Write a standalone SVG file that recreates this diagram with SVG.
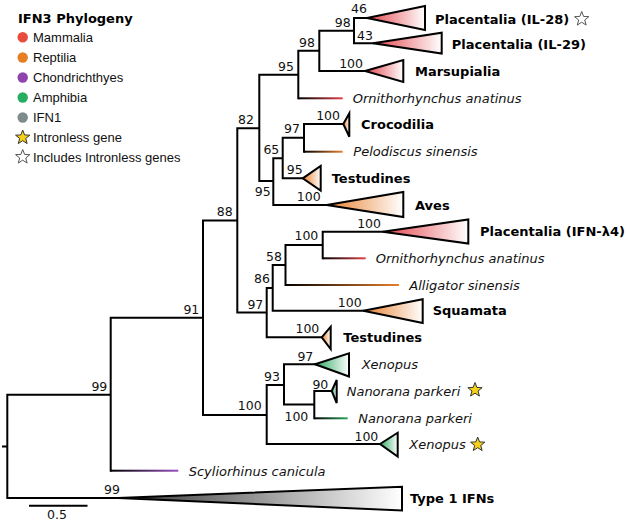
<svg xmlns="http://www.w3.org/2000/svg" width="630" height="523" viewBox="0 0 630 523">
<style>
.br{fill:none;stroke:#000;stroke-width:2;stroke-linecap:square}
.tri{stroke:#000;stroke-width:2;stroke-linejoin:miter}
.bs{font-family:"DejaVu Sans",sans-serif;font-size:12.5px;fill:#111;text-anchor:end}
.cl{font-family:"DejaVu Sans",sans-serif;font-size:13px;font-weight:bold;fill:#000}
.sp{font-family:"DejaVu Sans",sans-serif;font-size:13px;font-style:italic;fill:#111}
.lg{font-family:"Liberation Sans",Arial,sans-serif;font-size:13px;fill:#111}
.ys{fill:#f5d11a;stroke:#333;stroke-width:1}
.es{fill:#fff;stroke:#555;stroke-width:1}
</style>
<defs>
<linearGradient id="tRed" x1="0" y1="0" x2="1" y2="0"><stop offset="0" stop-color="#e3424a"/><stop offset="1" stop-color="#fff"/></linearGradient>
<linearGradient id="tOr" x1="0" y1="0" x2="1" y2="0"><stop offset="0" stop-color="#e8802c"/><stop offset="1" stop-color="#fff"/></linearGradient>
<linearGradient id="tGr" x1="0" y1="0" x2="1" y2="0"><stop offset="0" stop-color="#2aa860"/><stop offset="1" stop-color="#fff"/></linearGradient>
<linearGradient id="tGy" x1="0" y1="0" x2="1" y2="0"><stop offset="0" stop-color="#333"/><stop offset="1" stop-color="#fff"/></linearGradient>
<linearGradient id="lRed" x1="0" y1="0" x2="1" y2="0"><stop offset="0" stop-color="#000"/><stop offset="1" stop-color="#e3424a"/></linearGradient>
<linearGradient id="lOr" x1="0" y1="0" x2="1" y2="0"><stop offset="0" stop-color="#000"/><stop offset="1" stop-color="#e8802c"/></linearGradient>
<linearGradient id="lGr" x1="0" y1="0" x2="1" y2="0"><stop offset="0" stop-color="#000"/><stop offset="1" stop-color="#2aa860"/></linearGradient>
<linearGradient id="lPu" x1="0" y1="0" x2="1" y2="0"><stop offset="0" stop-color="#000"/><stop offset="1" stop-color="#9b4fc0"/></linearGradient>
<path id="star" d="M0,-7.5 L1.88,-2.59 L7.13,-2.32 L3.04,0.99 L4.41,6.07 L0,3.2 L-4.41,6.07 L-3.04,0.99 L-7.13,-2.32 L-1.88,-2.59 Z"/>
</defs>
<rect width="630" height="523" fill="#fff"/>

<g id="legend">
<text x="18" y="23" class="cl">IFN3 Phylogeny</text>
<circle cx="22.7" cy="37.3" r="5.2" fill="#e74c3c"/><text x="33" y="42" class="lg">Mammalia</text>
<circle cx="22.7" cy="57.5" r="5.2" fill="#e67e22"/><text x="33" y="62" class="lg">Reptilia</text>
<circle cx="22.7" cy="77.5" r="5.2" fill="#8e44ad"/><text x="33" y="82" class="lg">Chondrichthyes</text>
<circle cx="22.7" cy="97.5" r="5.2" fill="#27ae60"/><text x="33" y="102" class="lg">Amphibia</text>
<circle cx="22.7" cy="117.5" r="5.2" fill="#7f8c8d"/><text x="33" y="122" class="lg">IFN1</text>
<use href="#star" x="22.7" y="137.5" class="ys"/><text x="33" y="142" class="lg">Intronless gene</text>
<use href="#star" x="22.7" y="157" class="es"/><text x="33" y="161.5" class="lg">Includes Intronless genes</text>
</g>

<g id="connectors">
<path class="br" d="M3,446.5 H7.3 M7.3,394.7 V498 M7.3,394.7 H110.7 M7.3,498 H118
M110.7,317.7 V470.7 M110.7,317.7 H203
M203,220.5 V415 M203,415 H266.7
M266.7,385 V444 M266.7,385 H284
M284,364.3 V404.5 M284,364.3 H315 M284,404.5 H314.3
M314.3,391 V418.3 M314.3,391 H331.7
M266.7,444 H380
M203,220.5 H237.3
M237.3,128.3 V312.5 M237.3,128.3 H259.3
M259.3,74.8 V181 M259.3,74.8 H298.3
M298.3,50.8 V98.3 M298.3,50.8 H319.3
M319.3,30.7 V71 M319.3,30.7 H354
M354,18 V43.3 M354,18 H367 M354,43.3 H373
M319.3,71 H365
M259.3,181 H273.3
M273.3,158.3 V205 M273.3,158.3 H282.7
M282.7,137.7 V178.3 M282.7,137.7 H304
M304,124 V151.7 M304,124 H343.3
M282.7,178.3 H302.7
M273.3,205 H326.7
M237.3,312.5 H266.7
M266.7,288 V337.3 M266.7,288 H272.7
M272.7,265 V310.7 M272.7,265 H285.5
M285.5,245 V285 M285.5,245 H322.7
M322.7,231.7 V258.3 M322.7,231.7 H382.7
M272.7,310.7 H363.3
M266.7,337.3 H321.7"/>
<rect x="298.3" y="97.3" width="44.4" height="2" fill="url(#lRed)"/>
<rect x="304" y="150.7" width="38.7" height="2" fill="url(#lOr)"/>
<rect x="322.7" y="257.3" width="43" height="2" fill="url(#lRed)"/>
<rect x="285.5" y="284" width="113.5" height="2" fill="url(#lOr)"/>
<rect x="314.3" y="417.3" width="33.4" height="2" fill="url(#lGr)"/>
<rect x="110.7" y="469.7" width="67.6" height="2" fill="url(#lPu)"/>
<path class="br" d="M30,505.7 H86.5"/>
</g>

<g id="support">
<text class="bs" x="107.3" y="391">99</text>
<text class="bs" x="120" y="494">99</text>
<text class="bs" x="199.3" y="314">91</text>
<text class="bs" x="232.7" y="216">88</text>
<text class="bs" x="254" y="124">82</text>
<text class="bs" x="294" y="71">95</text>
<text class="bs" x="315" y="47">98</text>
<text class="bs" x="350.7" y="27">98</text>
<text class="bs" x="367" y="13">46</text>
<text class="bs" x="373" y="39.5">43</text>
<text class="bs" x="363" y="67.5">100</text>
<text class="bs" x="340" y="120">100</text>
<text class="bs" x="300" y="133">97</text>
<text class="bs" x="279.3" y="154">65</text>
<text class="bs" x="302.7" y="174">95</text>
<text class="bs" x="270.7" y="196">95</text>
<text class="bs" x="320.7" y="201">100</text>
<text class="bs" x="381" y="228">100</text>
<text class="bs" x="318.3" y="240">100</text>
<text class="bs" x="282" y="260.7">58</text>
<text class="bs" x="270" y="283">86</text>
<text class="bs" x="263.3" y="309">97</text>
<text class="bs" x="361.7" y="306.7">100</text>
<text class="bs" x="319.3" y="333">100</text>
<text class="bs" x="313.3" y="361">97</text>
<text class="bs" x="280" y="380.7">93</text>
<text class="bs" x="328.3" y="389">90</text>
<text class="bs" x="308.3" y="420.7">100</text>
<text class="bs" x="261.7" y="410">100</text>
<text class="bs" x="378.3" y="440.7">100</text>
</g>

<g id="il28">
<polygon class="tri" fill="url(#tRed)" points="367,18 425,6 425,30"/>
<text class="cl" x="435" y="23.5">Placentalia (IL-28)</text>
<use href="#star" x="581.7" y="19" class="es"/>
</g>
<g id="il29">
<polygon class="tri" fill="url(#tRed)" points="373,43.3 441.7,32.7 441.7,53.5"/>
<text class="cl" x="451.7" y="49">Placentalia (IL-29)</text>
</g>
<g id="marsupialia">
<polygon class="tri" fill="url(#tRed)" points="365,71 403.3,60 403.3,82"/>
<text class="cl" x="415" y="75.5">Marsupialia</text>
</g>
<g id="ornith1"><text class="sp" x="352.7" y="103">Ornithorhynchus anatinus</text></g>
<g id="crocodilia">
<polygon class="tri" fill="url(#tOr)" points="343.3,124 349.3,113.3 349.3,136.7"/>
<text class="cl" x="361" y="128.5">Crocodilia</text>
</g>
<g id="pelodiscus"><text class="sp" x="353.3" y="156">Pelodiscus sinensis</text></g>
<g id="testudines1">
<polygon class="tri" fill="url(#tOr)" points="302.7,178.3 320.7,166 320.7,190.5"/>
<text class="cl" x="331.7" y="183">Testudines</text>
</g>
<g id="aves">
<polygon class="tri" fill="url(#tOr)" points="326.7,205 403.3,192 403.3,217"/>
<text class="cl" x="415" y="209.5">Aves</text>
</g>
<g id="ifnl4">
<polygon class="tri" fill="url(#tRed)" points="382.7,231.7 468.3,219.5 468.3,243.5"/>
<text class="cl" x="480" y="236">Placentalia (IFN-λ4)</text>
</g>
<g id="ornith2"><text class="sp" x="375.7" y="263">Ornithorhynchus anatinus</text></g>
<g id="alligator"><text class="sp" x="409.3" y="289.5">Alligator sinensis</text></g>
<g id="squamata">
<polygon class="tri" fill="url(#tOr)" points="363.3,310.7 422.7,299.3 422.7,323"/>
<text class="cl" x="432.7" y="315">Squamata</text>
</g>
<g id="testudines2">
<polygon class="tri" fill="url(#tOr)" points="321.7,337.3 330.7,326.7 330.7,349"/>
<text class="cl" x="343.3" y="342">Testudines</text>
</g>
<g id="xenopus1">
<polygon class="tri" fill="url(#tGr)" points="315,364.3 349,353.3 349,376.5"/>
<text class="sp" x="361.7" y="368.5">Xenopus</text>
</g>
<g id="nanorana1">
<polygon class="tri" fill="url(#tGr)" points="331.7,391 336.7,380 336.7,403"/>
<text class="sp" x="346.7" y="395.5">Nanorana parkeri</text>
<use href="#star" x="475" y="390" class="ys"/>
</g>
<g id="nanorana2"><text class="sp" x="358.3" y="423">Nanorana parkeri</text></g>
<g id="xenopus2">
<polygon class="tri" fill="url(#tGr)" points="380,444 397.7,432.7 397.7,456.5"/>
<text class="sp" x="409.3" y="448.5">Xenopus</text>
<use href="#star" x="477.7" y="444.5" class="ys"/>
</g>
<g id="scyliorhinus"><text class="sp" x="188.7" y="475.5">Scyliorhinus canicula</text></g>
<g id="type1">
<polygon class="tri" fill="url(#tGy)" points="118,498 402,486.7 402,510.5"/>
<text class="cl" x="410" y="502.5">Type 1 IFNs</text>
</g>
<g id="scale"><text class="bs" x="57" y="518.5" style="text-anchor:middle">0.5</text></g>
</svg>
